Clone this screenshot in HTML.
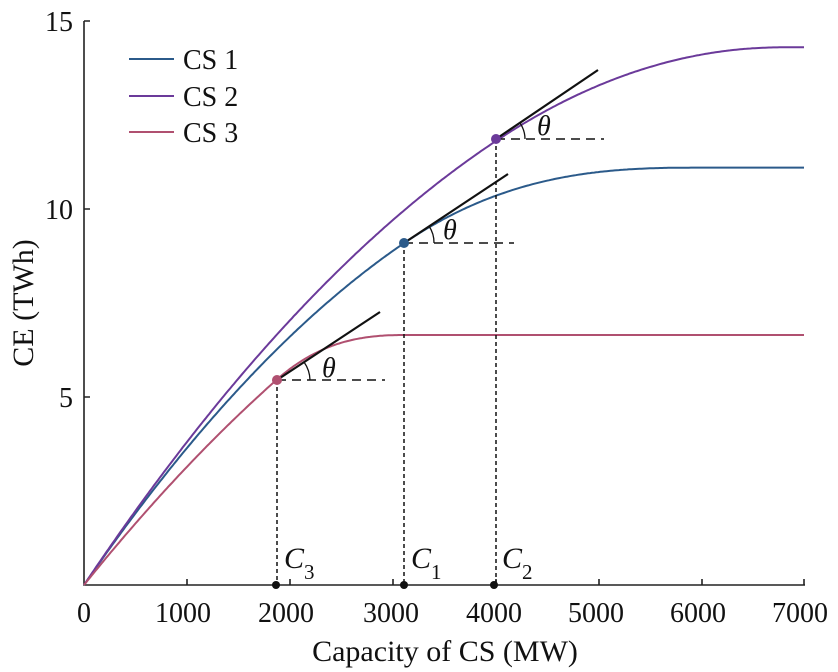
<!DOCTYPE html><html><head><style>body{margin:0;background:#fff}svg{display:block}text{font-family:"Liberation Serif",serif;fill:#111}</style></head><body>
<svg id="s" width="838" height="672" viewBox="0 0 838 672">
<g stroke="#222" stroke-width="1.6" fill="none">
<path d="M84 21V585H805"/>
<path d="M84 21h6M84 209h6M84 397h6"/>
<path d="M187 585v-6M290 585v-6M393 585v-6M496 585v-6M599 585v-6M702 585v-6M804 585v-6"/>
</g>
<g font-size="28" text-anchor="middle">
<text x="84" y="622">0</text><text x="183" y="622">1000</text><text x="286" y="622">2000</text><text x="391" y="622">3000</text><text x="494" y="622">4000</text><text x="596" y="622">5000</text><text x="698" y="622">6000</text><text x="800" y="622">7000</text>
<text x="445" y="661" font-size="30">Capacity of CS (MW)</text>
</g>
<g font-size="28" text-anchor="end"><text x="73" y="31">15</text><text x="73" y="219">10</text><text x="73" y="407">5</text></g>
<text font-size="30" transform="translate(33 303) rotate(-90)" text-anchor="middle">CE (TWh)</text>
<g stroke-width="2"><path d="M129 59h45" stroke="#2b5a8a"/><path d="M129 96h45" stroke="#6b3a9a"/><path d="M129 132h45" stroke="#b05070"/></g>
<g font-size="28"><text x="183" y="69">CS 1</text><text x="183" y="106">CS 2</text><text x="183" y="142">CS 3</text></g>
<g id="curves" fill="none" stroke-width="2"></g>
<g stroke="#111" stroke-width="1.5" stroke-dasharray="4 3" fill="none">
<path d="M277 380V585M404 243V585M496 139V585"/>
<path stroke-dasharray="9 6" d="M277 380H385M404 243H514M496 139H604"/>
</g>
<g stroke="#111" stroke-width="2.2"><path d="M277 380L380 312M404 243L508 174M496 139L598 70"/></g>
<g fill="none" stroke="#111" stroke-width="1.3"><path d="M304 362A33 33 0 0 1 310 380"/><path d="M429 226A30 30 0 0 1 434 243"/><path d="M520 123A29 29 0 0 1 525 139"/></g>
<g font-size="28" font-style="italic"><text x="322" y="377">θ</text><text x="443" y="239">θ</text><text x="537" y="135">θ</text></g>
<circle cx="277" cy="380" r="5" fill="#b05070"/><circle cx="404" cy="243" r="5" fill="#2b5a8a"/><circle cx="496" cy="139" r="5" fill="#6b3a9a"/>
<g fill="#111"><circle cx="276" cy="585" r="4"/><circle cx="404" cy="585" r="4"/><circle cx="494" cy="585" r="4"/></g>
<g font-size="30" font-style="italic"><text x="284" y="568">C</text><text x="411" y="568">C</text><text x="502" y="568">C</text></g>
<g font-size="21"><text x="304" y="579">3</text><text x="431" y="579">1</text><text x="522" y="579">2</text></g>
</svg>
<script>
var g=document.getElementById('curves');
function px(x){return 84+x*720/7000}function py(y){return 585-y*37.6}
function mk(a,b,X,M,L){var y0=a*X-b*X*X,s=a-2*b*X,q=s*L/(M-y0);return function(x){if(x<=X)return a*x-b*x*x;var t=x-X;if(t>=L)return M;return M-(M-y0)*Math.pow(1-t/L,q);};}
[[mk(0.00398,3.40e-7,3100,11.1,2900),'#2b5a8a'],[mk(0.004083,2.833e-7,4000,14.3,2800),'#6b3a9a'],[mk(0.0034,2.594e-7,1870,6.65,1300),'#b05070']].forEach(function(c){
var d='';for(var x=0;x<=7000;x+=20){d+=(x?'L':'M')+px(x).toFixed(1)+' '+py(c[0](x)).toFixed(1);}
var p=document.createElementNS('http://www.w3.org/2000/svg','path');p.setAttribute('d',d);p.setAttribute('stroke',c[1]);g.appendChild(p);});
</script>
</body></html>
